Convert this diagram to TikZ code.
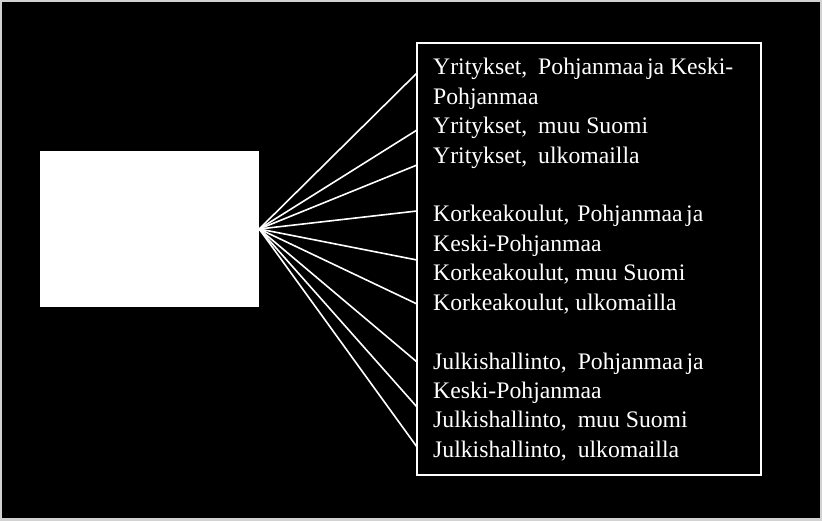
\documentclass[tikz,border=0pt]{standalone}
\usepackage{fontspec}
\setmainfont{Liberation Serif}
\newcommand{\wsp}{\hspace{5pt} }
\newcommand{\nsp}{\hspace{3.5pt}}
\begin{document}
\begin{tikzpicture}[x=1pt,y=-1pt,
  srcbox/.style={draw=none,fill=white,minimum width=219pt,minimum height=156pt,inner sep=0pt},
  listbox/.style={draw=white,line width=1.5pt,fill=black,minimum width=344pt,minimum height=432pt,inner sep=0pt},
  fan/.style={draw=white,line width=1.6pt},
  txt/.style={anchor=base west,inner sep=0pt,text=white,font=\fontsize{23.7}{29}\selectfont}]
\fill[gray!35] (0,0) rectangle (822,521);
\fill[black] (2,2) rectangle (820,518);
\useasboundingbox (0,0) rectangle (822,521);
\node[srcbox] (src) at (149.5,229) {};
\node[listbox] (lst) at (589,259) {};
\foreach \i/\y in {1/73,2/130,3/165,4/211,5/260,6/304,7/362,8/407,9/447}
  \coordinate (e\i) at (417,\y);
\foreach \i in {1,...,9}
  \draw[fan] (src.east) -- (e\i);
\node[txt] (t1) at (433,75.0) {Yritykset,\wsp Pohjanmaa\nsp ja Keski-};
\node[txt] (t2) at (433,104.4) {Pohjanmaa};
\node[txt] (t3) at (433,133.8) {Yritykset,\wsp muu Suomi};
\node[txt] (t4) at (433,163.2) {Yritykset,\wsp ulkomailla};
\node[txt] (t5) at (433,222.0) {Korkeakoulut,\hspace{2pt} Pohjanmaa\nsp ja};
\node[txt] (t6) at (433,251.4) {Keski-Pohjanmaa};
\node[txt] (t7) at (433,280.8) {Korkeakoulut, muu Suomi};
\node[txt] (t8) at (433,310.2) {Korkeakoulut, ulkomailla};
\node[txt] (t9) at (433,369.0) {Julkishallinto,\wsp Pohjanmaa\nsp ja};
\node[txt] (t10) at (433,398.4) {Keski-Pohjanmaa};
\node[txt] (t11) at (433,427.8) {Julkishallinto,\wsp muu Suomi};
\node[txt] (t12) at (433,457.2) {Julkishallinto,\wsp ulkomailla};
\end{tikzpicture}
\end{document}
